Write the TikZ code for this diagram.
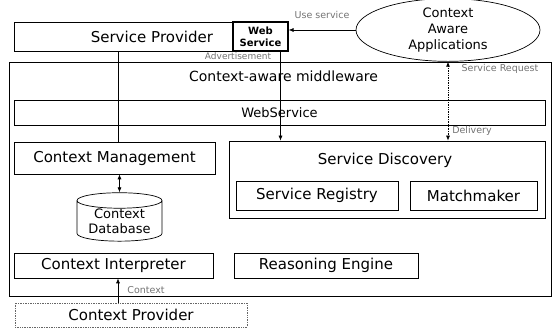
\documentclass[tikz,border=0pt]{standalone}
\usepackage{fontspec}
\setmainfont{DejaVu Sans}
\usetikzlibrary{arrows.meta,positioning,shapes.geometric}

\tikzset{
  box/.style={draw, line width=0.7pt, inner sep=0pt, font=\fontsize{15}{18}\selectfont},
  lbl/.style={text=black!55, font=\fontsize{9.5}{11}\selectfont, inner sep=1pt},
  arr/.style={-{Latex[length=5pt,width=4pt]}, line width=0.7pt},
  dblarr/.style={{Latex[length=5pt,width=4pt]}-{Latex[length=5pt,width=4pt]}, line width=0.7pt},
}

\begin{document}
\begin{tikzpicture}[x=1pt,y=-1pt]
\useasboundingbox (0,0) rectangle (557,328);

% outside the middleware
\node[box, text width=179pt, inner xsep=20pt, align=right, minimum height=29pt] (provider) at (123.5,36.5) {Service Provider};
\node[box, line width=1.1pt, minimum width=55pt, minimum height=29pt, align=center,
      font=\bfseries\fontsize{10}{12}\selectfont] (websvc) at (260.5,36.5) {Web\\Service};
\node[ellipse, draw, line width=0.7pt, minimum width=184pt, minimum height=54pt, inner sep=0pt,
      align=center, font=\fontsize{13}{16}\selectfont] (apps) at (448,30) {Context\\Aware\\Applications};

% middleware
\node[box, minimum width=542pt, minimum height=234pt] (mw) at (280,179) {};
\node[font=\fontsize{14}{16}\selectfont] (mwtitle) at (283.5,76) {Context-aware middleware};
\node[box, minimum width=531pt, minimum height=25pt, font=\fontsize{13}{16}\selectfont] (wsbar) at (279.5,112.5) {WebService};

\node[box, minimum width=201pt, minimum height=32pt] (ctxmgmt) at (114.5,158) {Context Management};
\node[cylinder, shape border rotate=90, aspect=0.25, draw, line width=0.7pt, inner sep=0pt,
      minimum width=85pt, minimum height=42pt, align=center,
      font=\fontsize{13}{15}\selectfont] (ctxdb) at (119.5,221) {Context\\Database};

\node[box, minimum width=316pt, minimum height=77pt] (discovery) at (387,179.5) {};
\node[font=\fontsize{15}{18}\selectfont] (disctitle) at (385,160) {Service Discovery};
\node[box, minimum width=162pt, minimum height=29pt] (registry) at (317,195.5) {Service Registry};
\node[box, minimum width=127pt, minimum height=29pt] (matcher) at (473.5,195.5) {Matchmaker};

\node[box, minimum width=199pt, minimum height=25pt] (interp) at (113.5,265.5) {Context Interpreter};
\node[box, minimum width=184pt, minimum height=25pt] (reasoner) at (326,265.5) {Reasoning Engine};

\node[box, draw=black!60, densely dotted, minimum width=232pt, minimum height=24pt] (ctxprov) at (131,315) {Context Provider};

% connectors
\draw[arr] (apps.west) -- (apps.west -| websvc.east);
\draw[line width=0.7pt] ([xshift=3.5pt]ctxmgmt.north) -- ([xshift=3.5pt]ctxmgmt.north |- provider.south);
\draw[arr] ([xshift=20pt]websvc.south) -- ([xshift=20pt]websvc.south |- discovery.north);
\draw[dblarr, densely dotted] (apps.south) -- (apps.south |- discovery.north);
\draw[dblarr] (ctxdb.north |- ctxmgmt.south) -- (ctxdb.north);
\draw[arr] ([xshift=4.5pt]interp.south |- ctxprov.north) -- ([xshift=4.5pt]interp.south);

% labels
\node[lbl] (uselbl) at (322,15) {Use service};
\node[lbl, font=\fontsize{9}{10}\selectfont] (advlbl) at (238,56.5) {Advertisement};
\node[lbl] (reqlbl) at (500,69) {Service Request};
\node[lbl] (dellbl) at (472,131) {Delivery};
\node[lbl] (ctxlbl) at (146,290) {Context};
\end{tikzpicture}
\end{document}
